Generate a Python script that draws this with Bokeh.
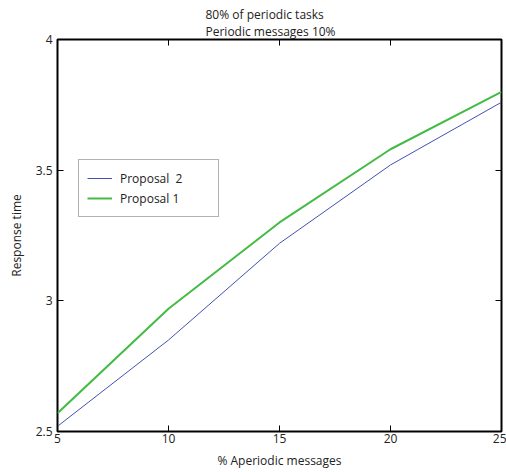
from bokeh.plotting import figure
from bokeh.models import LinearAxis, FixedTicker, Legend, LegendItem, Range1d, Title
from bokeh.embed import file_html
from bokeh.resources import INLINE

x_values = [5, 10, 15, 20, 25]
proposal2 = [2.52, 2.85, 3.22, 3.52, 3.76]
proposal1 = [2.57, 2.97, 3.30, 3.58, 3.80]
x_ticks = [5, 10, 15, 20, 25]
y_ticks = [2.5, 3, 3.5, 4]
y_tick_labels = ["2.5", "3", "3.5", "4"]
title_text = "80% of periodic tasks\nPeriodic messages 10%"

FONT = "Open Sans"

p = figure(width=506, height=472, output_backend="svg", toolbar_location=None,
           x_range=Range1d(5, 25), y_range=Range1d(2.5, 4),
           min_border_left=57, min_border_right=5, min_border_top=39, min_border_bottom=41)
p.title = Title(text=title_text, align="left", offset=148, text_font=FONT, text_font_size="12px",
                text_font_style="normal", text_color="#222222", standoff=0,
                text_line_height=1.0)

p.grid.visible = False
p.outline_line_color = "black"
p.outline_line_width = 2
p.background_fill_color = "white"
p.border_fill_color = "white"

l2 = p.line(x_values, proposal2, line_color="#4252ae", line_width=1)
l1 = p.line(x_values, proposal1, line_color="#44bb44", line_width=2)

def style_axis(ax, show_labels=True):
    ax.axis_line_color = None
    ax.major_tick_in = 6
    ax.major_tick_out = 0
    ax.minor_tick_line_color = None
    ax.major_tick_line_color = "black"
    ax.major_tick_line_width = 1
    ax.major_label_text_font = FONT
    ax.major_label_text_font_size = "12px" if show_labels else "0px"
    ax.major_label_text_color = "#222222" if show_labels else None
    ax.axis_label_text_font = FONT
    ax.axis_label_text_font_size = "12px"
    ax.axis_label_text_font_style = "normal"
    ax.axis_label_text_color = "#222222"

p.xaxis.ticker = FixedTicker(ticks=x_ticks)
p.yaxis.ticker = FixedTicker(ticks=y_ticks)
p.yaxis.major_label_overrides = {t: s for t, s in zip(y_ticks, y_tick_labels)}
p.xaxis.axis_label = "% Aperiodic messages"
p.yaxis.axis_label = "Response time"
style_axis(p.xaxis[0])
style_axis(p.yaxis[0])
p.xaxis.major_label_standoff = 2
p.yaxis.major_label_standoff = 5
p.xaxis.axis_label_standoff = 6
p.yaxis.axis_label_standoff = 8

top = LinearAxis(ticker=FixedTicker(ticks=x_ticks))
style_axis(top, False)
top.major_label_standoff = 0
right = LinearAxis(ticker=FixedTicker(ticks=y_ticks))
style_axis(right, False)
right.major_label_standoff = 0
p.add_layout(top, "above")
p.add_layout(right, "right")

legend = Legend(items=[LegendItem(label="Proposal  2", renderers=[l2]),
                       LegendItem(label="Proposal 1", renderers=[l1])],
                location=(21, 214))
legend.label_text_font = FONT
legend.label_text_font_size = "12px"
legend.label_text_color = "#222222"
legend.border_line_color = "#666666"
legend.border_line_width = 1
legend.glyph_width = 25
legend.glyph_height = 20
legend.label_height = 20
legend.label_width = 90
legend.spacing = 0
legend.padding = 8
legend.margin = 0
legend.label_standoff = 8
legend.background_fill_alpha = 1
p.add_layout(legend, "center")

open("out.html", "w").write(file_html(p, INLINE))
